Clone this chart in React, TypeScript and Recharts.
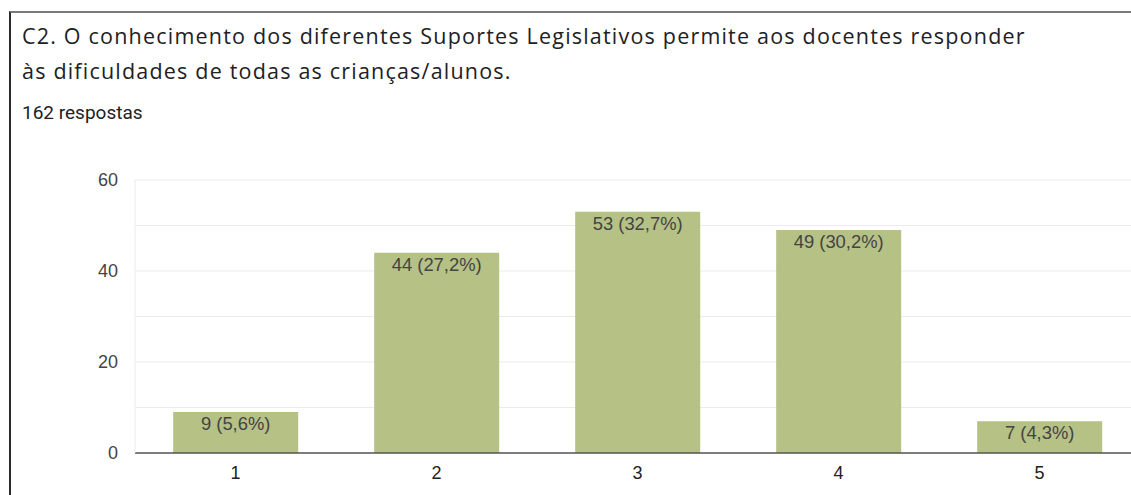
import { BarChart, Bar, XAxis, YAxis, CartesianGrid, LabelList } from "recharts";

const categories = ["1", "2", "3", "4", "5"];
const counts = [9, 44, 53, 49, 7];
const percents = ["5,6%", "27,2%", "32,7%", "30,2%", "4,3%"];
const yTicks = [0, 20, 40, 60];
const gridValues = [0, 10, 20, 30, 40, 50, 60];

const data = categories.map((c, i) => ({
  name: c,
  value: counts[i],
  label: `${counts[i]} (${percents[i]})`,
}));

const font = "Roboto, 'Noto Sans', Arial, sans-serif";
const chartFont = "'Liberation Sans', Arial, sans-serif";

export default function App() {
  return (
    <div style={{ position: "fixed", left: 0, top: 0, width: 1131, height: 495, overflow: "hidden", background: "#fff", fontFamily: font }}>
      <div style={{ position: "absolute", left: 9, top: 11, width: 1200, height: 600, borderTop: "2px solid #7a7a7a", borderLeft: "2px solid #2b2b2b" }} />
      <div style={{ position: "absolute", left: 22, top: 18, fontFamily: "'Open Sans', Roboto, sans-serif", fontSize: 21.5, letterSpacing: 1.2, lineHeight: "35px", color: "#202124", whiteSpace: "nowrap" }}>
        <div>C2. O conhecimento dos diferentes Suportes Legislativos permite aos docentes responder</div>
        <div>às dificuldades de todas as crianças/alunos.</div>
      </div>
      <div style={{ position: "absolute", left: 22, top: 103, fontSize: 19, lineHeight: "20px", color: "#202124", whiteSpace: "nowrap" }}>
        162 respostas
      </div>
      <div style={{ position: "absolute", left: 0, top: 0 }}>
        <BarChart width={1160} height={495} data={data} margin={{ top: 180, right: 20, left: 0, bottom: 12 }} barCategoryGap="19%">
          <CartesianGrid vertical={false} stroke="#ebebeb" horizontalValues={gridValues} />
          <XAxis
            dataKey="name"
            height={30}
            tickLine={false}
            tickSize={0}
            tickMargin={13}
            axisLine={{ stroke: "#555", strokeWidth: 1.5 }}
            tick={{ fontSize: 18, fill: "#222", fontFamily: chartFont }}
          />
          <YAxis
            width={135}
            domain={[0, 60]}
            ticks={yTicks}
            tickLine={false}
            tickSize={0}
            tickMargin={17}
            axisLine={{ stroke: "#ebebeb" }}
            tick={{ fontSize: 18, fill: "#444", fontFamily: chartFont }}
          />
          <Bar dataKey="value" fill="#b5c185" isAnimationActive={false}>
            <LabelList dataKey="label" position="insideTop" offset={5} fill="#444" fontSize={18.4} fontFamily={chartFont} />
          </Bar>
        </BarChart>
      </div>
    </div>
  );
}
